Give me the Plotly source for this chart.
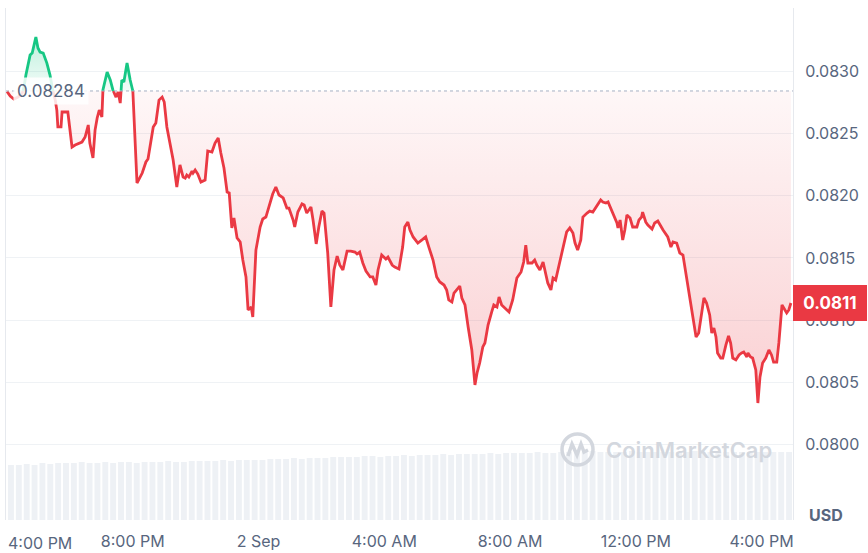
import plotly.graph_objects as go
import pandas as pd

# ---------------- data ----------------
start_time = "2024-09-01 16:00"
# minutes after start
minutes = [0, 6, 13, 21, 29, 32, 36, 44, 48, 52, 55, 59, 63, 69, 76, 82, 86, 92, 95, 97,
           103, 105, 111, 116, 124, 130, 143, 149, 155, 158, 164, 168, 172, 176, 181, 183, 191, 197, 202, 208,
           212, 216, 219, 223, 229, 235, 240, 248, 258, 265, 269, 279, 284, 290, 296, 300, 305, 309, 317, 324,
           330, 336, 340, 343, 347, 353, 355, 359, 364, 370, 378, 383, 391, 397, 403, 408, 414, 420, 424, 429,
           433, 439, 445, 450, 456, 460, 466, 469, 475, 483, 488, 494, 500, 507, 513, 519, 527, 534, 538, 546,
           549, 555, 563, 567, 572, 580, 584, 590, 595, 601, 605, 612, 618, 624, 630, 635, 641, 649, 656, 664,
           668, 673, 679, 685, 693, 698, 704, 708, 715, 723, 727, 735, 740, 748, 755, 759, 765, 769, 775, 784,
           792, 799, 805, 813, 820, 826, 834, 839, 843, 849, 853, 859, 864, 868, 874, 880, 887, 893, 897, 902,
           908, 912, 918, 925, 929, 935, 939, 944, 950, 958, 965, 973, 981, 986, 990, 994, 1002, 1007, 1011, 1017,
           1023, 1028, 1032, 1038, 1042, 1047, 1053, 1061, 1068, 1074, 1080, 1084, 1089, 1095, 1099, 1107, 1112, 1118, 1126, 1133,
           1137, 1143, 1147, 1152, 1156, 1164, 1166, 1170, 1175, 1179, 1183, 1189, 1194, 1202, 1206, 1211, 1213, 1219, 1223, 1231,
           1236, 1242, 1252, 1261, 1267, 1271, 1278, 1284, 1290, 1297, 1303, 1309, 1315, 1320, 1328, 1330, 1335, 1341, 1345, 1349,
           1353, 1356, 1362, 1366, 1372, 1377, 1381, 1385, 1391, 1397, 1402, 1406, 1412, 1414, 1419, 1423, 1429, 1433, 1437, 1442,
           1448, 1454, 1459, 1463, 1469, 1473, 1479, 1482, 1488, 1492, 1496]

prices = [0.082835, 0.082799, 0.082775, 0.082791, 0.082823, 0.082864, 0.082968, 0.083128, 0.083144, 0.083209,
          0.083273, 0.083185, 0.083152, 0.083144, 0.083064, 0.082968, 0.082864, 0.082767, 0.082687, 0.082551,
          0.082551, 0.082671, 0.082671, 0.082671, 0.082390, 0.082406, 0.082430, 0.082470, 0.082567, 0.082422,
          0.082302, 0.082526, 0.082623, 0.082687, 0.082631, 0.082848, 0.082992, 0.082928, 0.082848, 0.082791,
          0.082831, 0.082743, 0.082928, 0.082912, 0.083064, 0.082928, 0.082848, 0.082101, 0.082181, 0.082270,
          0.082294, 0.082551, 0.082583, 0.082767, 0.082791, 0.082751, 0.082551, 0.082462, 0.082286, 0.082069,
          0.082246, 0.082149, 0.082141, 0.082165, 0.082149, 0.082197, 0.082181, 0.082205, 0.082173, 0.082109,
          0.082125, 0.082358, 0.082350, 0.082422, 0.082462, 0.082342, 0.082221, 0.082029, 0.082021, 0.081740,
          0.081820, 0.081660, 0.081628, 0.081483, 0.081347, 0.081082, 0.081106, 0.081026, 0.081563, 0.081748,
          0.081812, 0.081828, 0.081908, 0.082013, 0.082069, 0.082005, 0.081981, 0.081900, 0.081900, 0.081804,
          0.081748, 0.081868, 0.081933, 0.081925, 0.081860, 0.081908, 0.081804, 0.081612, 0.081748, 0.081876,
          0.081860, 0.081539, 0.081106, 0.081403, 0.081515, 0.081443, 0.081403, 0.081555, 0.081555, 0.081547,
          0.081531, 0.081547, 0.081459, 0.081395, 0.081347, 0.081347, 0.081282, 0.081403, 0.081523, 0.081491,
          0.081507, 0.081443, 0.081427, 0.081411, 0.081587, 0.081748, 0.081788, 0.081724, 0.081668, 0.081619,
          0.081644, 0.081668, 0.081587, 0.081483, 0.081347, 0.081307, 0.081282, 0.081242, 0.081162, 0.081146,
          0.081218, 0.081250, 0.081274, 0.081178, 0.081122, 0.080945, 0.080761, 0.080480, 0.080576, 0.080656,
          0.080785, 0.080817, 0.080961, 0.081066, 0.081122, 0.081106, 0.081186, 0.081122, 0.081098, 0.081066,
          0.081162, 0.081339, 0.081387, 0.081467, 0.081603, 0.081459, 0.081459, 0.081483, 0.081443, 0.081403,
          0.081467, 0.081379, 0.081299, 0.081242, 0.081339, 0.081323, 0.081427, 0.081563, 0.081708, 0.081740,
          0.081700, 0.081619, 0.081563, 0.081644, 0.081828, 0.081860, 0.081876, 0.081868, 0.081925, 0.081965,
          0.081949, 0.081941, 0.081949, 0.081900, 0.081868, 0.081780, 0.081740, 0.081804, 0.081644, 0.081724,
          0.081844, 0.081820, 0.081748, 0.081748, 0.081804, 0.081828, 0.081868, 0.081788, 0.081764, 0.081732,
          0.081780, 0.081796, 0.081724, 0.081668, 0.081587, 0.081628, 0.081619, 0.081539, 0.081523, 0.081339,
          0.081162, 0.081018, 0.080865, 0.080897, 0.081122, 0.081178, 0.081138, 0.081042, 0.080897, 0.080937,
          0.080865, 0.080737, 0.080696, 0.080696, 0.080801, 0.080873, 0.080817, 0.080696, 0.080681, 0.080721,
          0.080737, 0.080745, 0.080705, 0.080737, 0.080705, 0.080696, 0.080600, 0.080335, 0.080544, 0.080656,
          0.080696, 0.080761, 0.080721, 0.080664, 0.080664, 0.080817, 0.081122, 0.081098, 0.081058, 0.081082,
          0.081138]

base_price = 0.08284
base_label = "0.08284"
last_label = "0.0811"

x_tick_times = ["2024-09-01 20:00", "2024-09-02 00:00", "2024-09-02 04:00",
                "2024-09-02 08:00", "2024-09-02 12:00", "2024-09-02 16:00"]
x_tick_text = ["8:00 PM", "2 Sep", "4:00 AM", "8:00 AM", "12:00 PM", "4:00 PM"]
first_tick_text = "4:00 PM"

y_tick_vals = [0.0800, 0.0805, 0.0810, 0.0815, 0.0820, 0.0825, 0.0830, 0.0835]
y_tick_text = ["0.0800", "0.0805", "0.0810", "0.0815", "0.0820", "0.0825", "0.0830", ""]

# volume bars (15-minute bars, relative units)
volume = [55, 55, 56, 55,
          57, 56, 57, 57, 57, 58,
          57, 57, 58, 57, 58, 58, 57, 58,
          58, 58, 59, 58, 58, 59, 59,
          59, 59, 60, 59, 60, 60, 60, 60, 61,
          61, 61, 62, 61, 62, 62, 62, 63,
          63, 63, 63, 64, 64, 63, 64, 64,
          65, 64, 65, 65, 65,
          66, 65, 66, 66, 66, 66, 67, 66,
          67, 67, 67, 67, 68, 67, 67, 68, 68,
          68, 68, 69, 68, 68, 68, 68, 69, 68, 68, 68, 68, 68, 68, 68, 69,
          68, 68, 68, 68, 68, 68, 68, 68, 68, 68, 68, 68]

# ---------------- styling ----------------
RED = "#ea3943"
GREEN = "#16c784"
GRAY_TXT = "#58667e"
GRID = "#eff2f5"
FONT = "Inter"

start = pd.Timestamp(start_time)
to_time = lambda m: start + pd.Timedelta(minutes=m)

# split series at the baseline (insert crossing points)
xm, yv = [], []
for i, p in enumerate(prices):
    if i > 0:
        p0 = prices[i - 1]
        if (p0 - base_price) * (p - base_price) < 0:
            f = (base_price - p0) / (p - p0)
            xm.append(minutes[i - 1] + f * (minutes[i] - minutes[i - 1]))
            yv.append(base_price)
    xm.append(minutes[i])
    yv.append(p)

xt = [to_time(m) for m in xm]
red_line = [v if v <= base_price else None for v in yv]
green_line = [v if v >= base_price else None for v in yv]
red_fill = [min(v, base_price) for v in yv]
green_fill = [max(v, base_price) for v in yv]
base_arr = [base_price] * len(xt)

fig = go.Figure()

# volume
vol_times = [start + pd.Timedelta(minutes=15 * i + 7.5) for i in range(len(volume))]
fig.add_trace(go.Bar(x=vol_times, y=volume, yaxis="y2", marker=dict(color="#eef1f5", line=dict(width=0)),
                     hoverinfo="skip", showlegend=False))

# red fill
fig.add_trace(go.Scatter(x=xt, y=base_arr, mode="lines", line=dict(width=0), hoverinfo="skip", showlegend=False))
fig.add_trace(go.Scatter(x=xt, y=red_fill, mode="lines", line=dict(width=0), fill="tonexty",
                         fillgradient=dict(type="vertical",
                                           colorscale=[[0, "rgba(234,57,67,0.24)"], [1, "rgba(234,57,67,0.04)"]]),
                         hoverinfo="skip", showlegend=False))
# green fill
fig.add_trace(go.Scatter(x=xt, y=base_arr, mode="lines", line=dict(width=0), hoverinfo="skip", showlegend=False))
fig.add_trace(go.Scatter(x=xt, y=green_fill, mode="lines", line=dict(width=0), fill="tonexty",
                         fillgradient=dict(type="vertical",
                                           colorscale=[[0, "rgba(22,199,132,0.05)"], [1, "rgba(22,199,132,0.28)"]]),
                         hoverinfo="skip", showlegend=False))
# lines
fig.add_trace(go.Scatter(x=xt, y=red_line, mode="lines", line=dict(color=RED, width=2.8),
                         connectgaps=False, hoverinfo="skip", showlegend=False))
fig.add_trace(go.Scatter(x=xt, y=green_line, mode="lines", line=dict(color=GREEN, width=2.8),
                         connectgaps=False, hoverinfo="skip", showlegend=False))

# baseline dotted line
fig.add_shape(type="line", xref="paper", x0=0, x1=1, yref="y", y0=base_price, y1=base_price,
              line=dict(color="#a6b0c3", width=1, dash="dot"), layer="above")

# baseline label
fig.add_annotation(x=0, xref="paper", xanchor="left", xshift=7, y=base_price, yref="y", yanchor="middle",
                   text=base_label, showarrow=False, font=dict(family=FONT, size=17, color=GRAY_TXT),
                   bgcolor="rgba(255,255,255,0.85)", borderpad=3)

# last price label
fig.add_annotation(x=1, xref="paper", xanchor="left", y=prices[-1], yref="y", yanchor="middle",
                   text="<b>" + last_label + "</b>", showarrow=False,
                   font=dict(family=FONT, size=17, color="white"),
                   bgcolor=RED, bordercolor=RED, borderwidth=1, borderpad=3, width=66, height=28)

# first x tick label (shifted inside, as in the reference)
fig.add_annotation(x=0, xref="paper", xanchor="left", xshift=0, y=0, yref="paper", yanchor="top", yshift=-11,
                   text=first_tick_text, showarrow=False, font=dict(family=FONT, size=16, color=GRAY_TXT))

# USD
fig.add_annotation(x=1, xref="paper", xanchor="left", xshift=14, y=0, yref="paper", yanchor="middle", yshift=5,
                   text="<b>USD</b>", showarrow=False, font=dict(family=FONT, size=16, color=GRAY_TXT))

# watermark
def px(xp):
    return (xp - 6) / 787.0

def py(yp):
    return (520 - yp) / 512.0

fig.add_shape(type="circle", xref="paper", yref="paper", x0=px(562), x1=px(593), y0=py(465), y1=py(434),
              line=dict(color="#d3d7de", width=3.5), layer="above")
fig.add_shape(type="path", xref="paper", yref="paper",
              path=f"M {px(568)} {py(456)} L {px(572)} {py(444)} L {px(577)} {py(455)} L {px(581)} {py(444)} "
                   f"L {px(584)} {py(452)} L {px(588)} {py(450)}",
              line=dict(color="#d3d7de", width=3.5), layer="above")
fig.add_annotation(x=px(604), xref="paper", xanchor="left", y=py(450), yref="paper", yanchor="middle",
                   text="CoinMarketCap", showarrow=False,
                   font=dict(family=FONT, size=22, color="#d3d7de", weight=600))

fig.update_layout(
    width=868, height=553,
    margin=dict(l=6, r=75, t=8, b=33, autoexpand=False),
    paper_bgcolor="white", plot_bgcolor="white",
    bargap=0.25,
    showlegend=False,
    font=dict(family=FONT, color=GRAY_TXT),
    xaxis=dict(type="date", range=[to_time(-2), to_time(1500)], automargin=False,
               tickvals=[pd.Timestamp(t) for t in x_tick_times], ticktext=x_tick_text,
               showgrid=False, zeroline=False, showline=False, ticks="", ticklabelstandoff=10,
               tickfont=dict(family=FONT, size=16, color=GRAY_TXT)),
    yaxis=dict(side="right", range=[0.079396, 0.083506], tickvals=y_tick_vals, ticktext=y_tick_text,
               automargin=False,
               showgrid=True, gridcolor=GRID, gridwidth=1, zeroline=False,
               showline=True, linecolor="#e6e9ee", linewidth=1, mirror=True, ticks="",
               ticklabelstandoff=8, tickfont=dict(family=FONT, size=16, color=GRAY_TXT)),
    yaxis2=dict(overlaying="y", range=[0, 512], visible=False, fixedrange=True),
)

fig.write_html("out.html", config={"displayModeBar": False},
               post_script="document.body.style.margin='0';document.body.style.overflow='hidden';")
